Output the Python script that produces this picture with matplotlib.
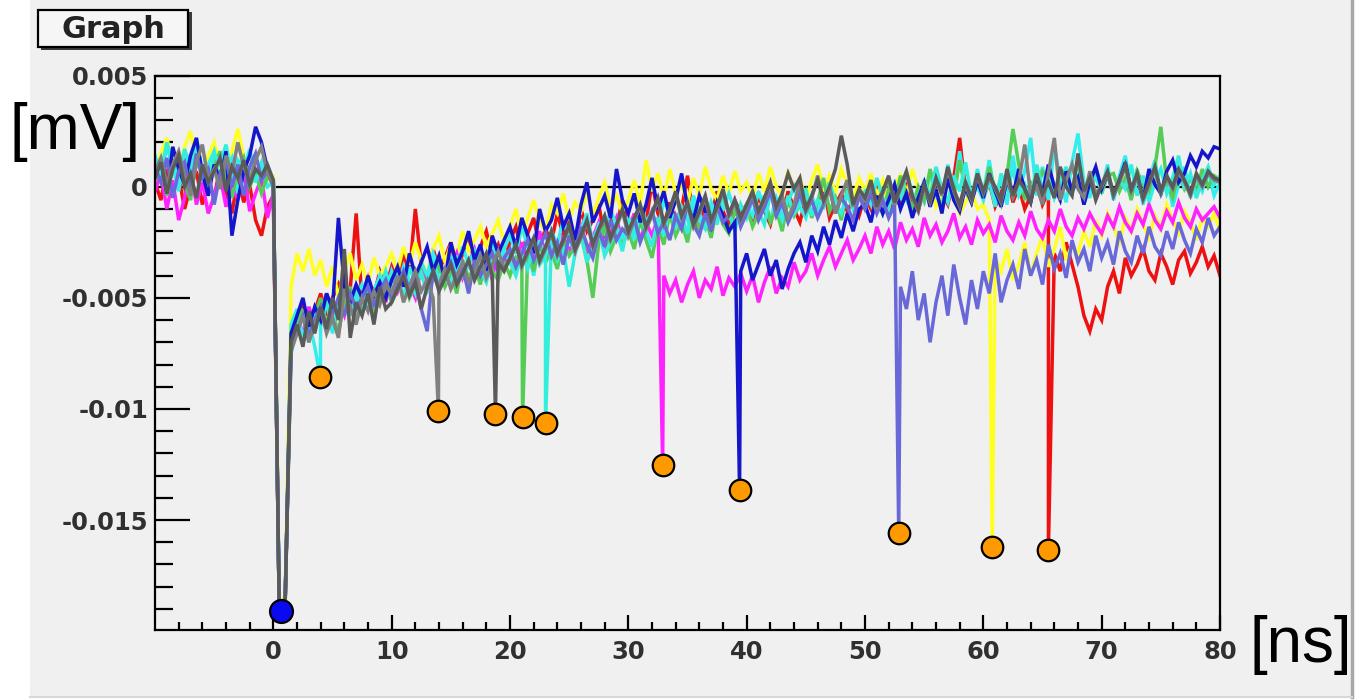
import numpy as np
import matplotlib
matplotlib.use("Agg")
import matplotlib.pyplot as plt
from matplotlib.patches import Rectangle
from matplotlib.lines import Line2D
from matplotlib.ticker import FixedLocator, FixedFormatter

# ---------------- data (values in units of 1e-4, sampled every 0.5 ns from -10 ns) ----------------
T_START = -10.0
T_STEP = 0.5
UNIT = 1e-4

yellow = [8, 15, 22, 10, 4, 18, 25, 12, 6, 14, 20, 9, 3, 16, 26, 13, 5, 11, 8, 2,
          4, -188, -184, -45, -30, -38, -28, -40, -33, -45, -36, -50, -38, -30, -42, -35, -44, -32, -40, -36,
          -30, -38, -27, -35, -25, -33, -40, -28, -22, -34, -26, -31, -20, -29, -24, -18, -27, -21, -15, -25,
          -18, -10, -22, -14, -6, -16, -20, -8, -12, -3, -15, -7, -11, -2, -13, -5, 2, -9, -4, -12,
          -6, 3, -8, 12, -2, 6, -5, 8, -3, 1, -7, 4, -4, 9, -1, -6, 5, -3, 7, -2,
          2, -5, 6, -2, 9, 0, -4, 7, -1, 4, -6, 3, 10, -2, 5, -3, 8, 1, -5, 4,
          -2, 6, -4, 3, -8, 1, 5, -3, 8, -1, -6, 2, -9, -3, 4, -5, -12, -7, -2, -10,
          -8, -15, -32, -38, -28, -42, -35, -25, -40, -30, -22, -36, -28, -18, -33, -26, -30, -20, -27, -15,
          -22, -12, -18, -25, -14, -20, -10, -17, -23, -13, -19, -8, -15, -21, -11, -16, -24, -14, -18, -12,
          -20]

cyan = [12, 5, 18, 9, -2, 14, 7, 20, 3, 10, 16, 1, 8, 13, -3, 6, 17, 4, 11, 0,
        2, -190, -187, -62, -55, -68, -60, -72, -58, -50, -63, -55, -45, -58, -50, -44, -52, -47, -40, -49,
        -38, -45, -36, -42, -48, -34, -40, -30, -37, -43, -31, -38, -27, -35, -41, -29, -33, -24, -36, -28,
        -22, -30, -18, -27, -40, -24, -32, -20, -26, -15, -23, -30, -19, -12, -25, -17, -21, -10, -18, -24,
        -14, -20, -8, -16, -11, -19, -6, -13, -17, -9, -15, -4, -12, -18, -7, -14, -10, -3, -11, -16,
        -8, -13, -2, -10, -15, -5, -12, -7, 0, -9, -14, -4, -11, -6, 2, -8, -13, -3, -10, -5,
        -9, 1, -7, -12, -3, -8, 4, -6, -11, -2, -7, 6, -4, -9, 10, -3, 16, -2, -6, 8,
        -3, 12, -5, 4, -8, 14, -2, 7, 22, -4, 9, -6, 18, 3, -7, 11, 24, 2, -5, 8,
        -1, 10, -6, 5, 14, -3, 8, -8, 2, 12, -4, 6, -9, 1, 9, -5, 3, -2, 7, -4,
        2]

green = [3, 10, -4, 8, 15, 2, -6, 12, 5, -2, 9, 16, 4, -5, 7, 13, 0, 6, -3, 5,
         1, -191, -186, -70, -62, -55, -68, -58, -50, -62, -56, -66, -52, -45, -60, -54, -48, -58, -50, -44,
         -52, -46, -40, -50, -44, -38, -47, -42, -35, -45, -39, -48, -33, -41, -36, -44, -30, -38, -42, -34,
         -40, -32, -36, -30, -38, -26, -34, -29, -37, -24, -31, -27, -20, -33, -50, -25, -18, -29, -22, -26,
         -20, -28, -15, -24, -32, -18, -26, -12, -22, -16, -25, -10, -19, -14, -23, -8, -17, -21, -11, -15,
         -9, -18, -12, -4, -16, -10, -20, -6, -13, -8, -2, -14, -7, 4, -11, -5, -15, -1, -9, -3,
         -10, 2, -6, -12, -1, -8, 5, -4, -9, 0, -6, 8, -3, -10, 3, -5, 12, -2, -7, 6,
         -4, 9, -2, -8, 5, 26, 10, -6, 2, -1, 7, 4, 0, -5, 6, -2, 12, -7, 3, 8,
         -3, 5, 6, -2, 4, -6, 7, 1, -4, 9, 27, 2, -5, 6, -1, 4, -3, 8, 0, 5,
         3]

turquoise = [14, 6, 20, 11, 3, 17, 9, 22, 7, 1, 15, 10, 19, 4, 12, 8, 16, 2, 9, 6,
             3, -189, -185, -75, -64, -58, -70, -55, -62, -52, -66, -50, -42, -57, -48, -55, -43, -51, -46, -38,
             -47, -40, -50, -36, -44, -39, -48, -33, -42, -37, -45, -31, -40, -35, -29, -38, -43, -32, -36, -28,
             -34, -40, -30, -37, -26, -35, -31, -24, -33, -28, -45, -30, -22, -34, -27, -19, -31, -25, -20, -29,
             -16, -24, -12, -20, -27, -14, -22, -9, -18, -13, -21, -7, -15, -19, -10, -17, -5, -12, -20, -8,
             -14, -6, -11, -17, -3, -10, -15, -4, -12, -8, -1, -13, -6, -9, 2, -7, -12, -3, -10, -5,
             -2, -8, 4, -5, -10, 1, -6, 7, -3, -9, 3, -4, 9, -1, -7, 5, -2, 11, -5, 0,
             -6, 3, -9, 6, -2, 8, -4, 1, -7, 10, -1, 5, -5, 2, 9, -3, 6, -8, 0, 4,
             -2, 7, -5, 3, -1, 10, -4, 5, -7, 2, 8, -3, 4, 14, -1, 6, -5, 3, 9, 1,
             5]

magenta = [-2, 6, -10, 3, -15, -5, 8, -8, 2, -12, -4, 5, -9, 1, -6, 7, -11, -3, 4, -14,
           -3, -190, -186, -68, -60, -66, -54, -62, -57, -48, -60, -52, -58, -46, -53, -49, -41, -50, -44, -52,
           -40, -47, -38, -44, -50, -36, -43, -39, -33, -45, -37, -30, -41, -35, -28, -38, -32, -42, -27, -34,
           -30, -36, -25, -33, -28, -20, -31, -26, -35, -22, -29, -24, -18, -30, -23, -16, -27, -21, -14, -25,
           -19, -12, -24, -16, -22, -14, -40, -48, -42, -52, -44, -38, -50, -42, -46, -36, -49, -41, -45, -39,
           -47, -40, -52, -43, -36, -48, -41, -45, -34, -42, -38, -30, -40, -33, -27, -36, -30, -24, -33, -28,
           -22, -30, -18, -26, -20, -28, -16, -24, -19, -27, -14, -22, -17, -25, -20, -12, -23, -18, -26, -15,
           -21, -17, -25, -13, -20, -24, -16, -22, -11, -19, -23, -15, -20, -10, -18, -22, -14, -19, -12, -17,
           -21, -13, -18, -9, -16, -20, -12, -17, -8, -15, -19, -11, -16, -7, -14, -18, -10, -15, -12, -9,
           -14]

blue = [5, 12, -3, 18, 8, 1, 14, 22, 6, -4, 10, 3, 16, -22, -6, 7, 14, 27, 20, 8,
        2, -190, -187, -66, -58, -50, -63, -54, -60, -48, -55, -14, -45, -52, -44, -50, -40, -49, -43, -50,
        -42, -36, -45, -30, -40, -34, -27, -38, -31, -42, -25, -35, -29, -20, -33, -26, -38, -22, -30, -24,
        -18, -27, -14, -22, -30, -10, -20, -15, -5, -18, -12, -24, -8, 2, -16, -10, -4, -14, 8, -6,
        -12, -3, -16, -8, 4, -10, -2, -14, -6, 6, -9, -15, -4, -11, -18, -7, -13, -20, -16, -38,
        -30, -42, -35, -28, -40, -33, -46, -37, -30, -25, -34, -22, -29, -18, -26, -15, -23, -12, -20, -10,
        -8, -16, -4, -12, -6, 1, -10, -3, -14, -5, 2, -9, -1, -12, 4, -6, -11, 0, -7, 3,
        -5, 6, -2, -9, 3, -4, 8, -1, -7, 5, -3, 10, 0, -6, 7, -2, 4, -8, 2, 9,
        -1, 6, -4, 3, 11, -2, 5, -6, 8, 1, -3, 7, 12, 2, 6, 14, 9, 16, 13, 18,
        17]

slate = [9, 2, 13, -5, 7, 11, -2, 15, 4, 8, -8, 6, 12, 0, 10, -4, 9, 15, 3, 7,
         0, -191, -188, -72, -65, -58, -67, -60, -54, -63, -57, -50, -58, -48, -55, -50, -45, -53, -47, -42,
         -50, -44, -38, -47, -41, -55, -65, -37, -46, -40, -34, -42, -36, -48, -33, -40, -35, -30, -38, -32,
         -28, -36, -30, -24, -33, -27, -21, -31, -25, -35, -22, -29, -18, -26, -32, -20, -27, -15, -24, -19,
         -22, -14, -25, -18, -11, -21, -16, -24, -13, -19, -8, -17, -22, -12, -20, -9, -16, -13, -6, -18,
         -12, -5, -15, -9, -2, -13, -7, -16, -10, -3, -11, -6, -14, -8, 0, -12, -5, -9, -15, -4,
         -10, -3, -12, -6, -14, -8, -45, -55, -38, -60, -48, -70, -52, -40, -58, -35, -50, -62, -42, -55,
         -38, -48, -30, -52, -42, -35, -46, -28, -40, -33, -44, -26, -37, -30, -41, -24, -34, -28, -38, -22,
         -32, -25, -35, -20, -29, -34, -22, -30, -18, -27, -31, -20, -28, -16, -24, -30, -19, -25, -14, -22,
         -18]

red = [2, -6, 8, -3, 5, -10, 0, 7, -8, 3, -5, 9, -2, -12, 4, -7, 1, -15, -22, -9,
       -4, -190, -186, -68, -60, -52, -64, -56, -48, -58, -50, -44, -54, -46, -12, -52, -42, -49, -38, -45,
       -36, -43, -30, -39, -10, -35, -41, -28, -37, -32, -25, -38, -30, -22, -34, -27, -20, -31, -26, -35,
       -24, -18, -30, -21, -14, -27, -19, -25, -12, -22, -16, -28, -10, -20, -15, -8, -23, -13, -18, -6,
       -14, -20, -9, -16, 2, -12, -18, -7, -15, -10, 5, -13, -19, -8, -14, -2, -11, -17, -6, -12,
       -8, -15, -4, -11, -17, -6, -13, -2, -10, -16, -5, -12, -7, 0, -14, -8, -3, -11, -6, -13,
       -4, -10, 1, -7, -12, -3, -9, 2, -6, -11, 0, -5, 8, -3, -8, 4, 22, -2, -7, 3,
       -5, 2, -9, -3, 6, -7, 0, -10, -4, 3, -8, -2, -30, -38, -25, -35, -45, -58, -65, -55,
       -60, -45, -38, -48, -32, -40, -35, -28, -38, -42, -30, -36, -44, -33, -29, -39, -34, -27, -36, -31,
       -40]

grey_light = [7, 13, 1, 10, 16, 5, -4, 11, 19, 3, 8, -1, 14, 6, 20, 9, 2, 12, 18, 6,
              2, -190, -186, -74, -66, -58, -70, -62, -55, -66, -59, -68, -46, -54, -62, -50, -56, -47, -53, -44,
              -48, -40, -52, -45, -38, -47, -42, -50, -44, -37, -46, -40, -34, -43, -38, -31, -41, -35, -29, -37,
              -33, -26, -36, -30, -24, -34, -28, -21, -31, -25, -18, -29, -23, -16, -27, -20, -14, -24, -18, -11,
              -22, -15, -9, -19, -13, -6, -17, -11, -3, -14, -8, -18, -12, -5, -16, -10, -2, -13, -7, -15,
              -9, -3, -12, -6, 1, -10, -4, -14, -8, 2, -11, -5, 5, -7, -1, -12, -4, 3, -9, -2,
              -6, 2, -10, -3, 4, -8, -1, 6, -5, -11, 0, -7, 3, -4, 8, -2, -9, 1, -6, 5,
              -3, 4, -1, -7, 4, -5, 2, 19, -4, 0, -8, 6, 22, -6, 3, 10, -1, -5, 7, -3,
              0, 6, -4, 2, 9, -2, 5, -6, 1, 8, -3, 4, -1, 7, 2, -4, 5, 0, 6, 3,
              2]

grey_dark = [4, 11, -3, 8, 14, 0, 6, -5, 10, 2, 7, 13, -2, 9, 4, 12, 1, 8, 5, 10,
             3, -190, -187, -70, -62, -72, -56, -66, -54, -64, -50, -60, -28, -68, -52, -58, -48, -62, -45, -55,
             -52, -46, -40, -49, -43, -55, -45, -38, -47, -41, -35, -44, -39, -33, -42, -36, -30, -40, -34, -38,
             -32, -26, -35, -29, -23, -33, -27, -20, -30, -24, -17, -28, -22, -15, -26, -19, -13, -23, -17, -10,
             -20, -14, -8, -18, -12, -5, -16, -10, -2, -13, -7, -17, -11, -4, -15, -9, -1, -12, -6, -14,
             -8, -2, -11, -5, 2, -9, -3, 6, -1, 4, -10, -4, 3, -6, 0, 8, 23, 10, -8, -1,
             -5, 3, -9, -2, 5, -7, 0, 7, -4, -10, 1, -6, 4, -3, 9, -1, -8, 2, -5, 6,
             -2, 5, 0, -6, 8, -4, 3, -1, -7, 6, -3, 2, -5, 9, 0, -4, 15, -2, 4, -6,
             1, 7, -3, 3, 10, -1, 6, -5, 2, 9, -2, 5, 0, 8, 3, -3, 6, 1, 7, 4,
             3]

# afterpulse spikes (time in ns, minimum in units of 1e-4) -> orange markers, one per trace (same order)
spike_t = [65.5, 60.75, 32.9, 3.97, 21.06, 23.0, 39.4, 52.85, 13.95, 18.77]
spike_v = [-163.5, -162.2, -125.2, -85.6, -103.6, -106.3, -136.5, -155.9, -100.9, -102.3]
# main pulse minimum -> blue marker
pulse_t = [0.68]
pulse_v = [-191]

trace_values = [red, yellow, magenta, cyan, green, turquoise, blue, slate, grey_light, grey_dark]
trace_colors = ["#ee1111", "#ffff22", "#ff22ff", "#33eeee", "#55cc55", "#33eedd",
                "#1515cc", "#6868d8", "#808080", "#5a5a5a"]

x_major = [0, 10, 20, 30, 40, 50, 60, 70, 80]
x_minor = [v for v in range(-8, 80, 2) if v % 10 != 0]
y_major = [0.005, 0.0, -0.005, -0.01, -0.015]
y_labels = ["0.005", "0", "-0.005", "-0.01", "-0.015"]
y_minor = [i * 0.001 for i in range(-19, 5) if i % 5 != 0]

# ---------------- figure ----------------
W, H = 1359, 700
fig = plt.figure(figsize=(W / 100, H / 100), dpi=100, facecolor="white")

# canvas background (ROOT window)
fig.patches.append(Rectangle((30 / W, 3 / H), (1351 - 30) / W, 1 - 3 / H,
                             transform=fig.transFigure, facecolor="#f0f0f0",
                             edgecolor="none", zorder=-10))
fig.lines.append(Line2D([1352 / W, 1352 / W], [3 / H, 1], transform=fig.transFigure,
                        color="#a8a8a8", lw=2.5, zorder=-9))
fig.lines.append(Line2D([30 / W, 1352 / W], [3 / H, 3 / H], transform=fig.transFigure,
                        color="#d8d8d8", lw=1.5, zorder=-9))

ax = fig.add_axes([155 / W, 1 - 630 / H, (1220 - 155) / W, (630 - 75.7) / H])
ax.set_zorder(1)
ax.set_facecolor("#f0f0f0")
ax.set_xlim(-10, 80)
ax.set_ylim(-0.01995, 0.005)

# zero reference line
ax.plot([0.35, 80], [0, 0], color="black", lw=1.6, zorder=1)

for i, (vals, col) in enumerate(zip(trace_values, trace_colors)):
    assert len(vals) == 181, (i, len(vals))
    t = T_START + T_STEP * np.arange(len(vals))
    v = np.asarray(vals, dtype=float)
    # insert the afterpulse spike belonging to this trace
    k = np.searchsorted(t, spike_t[i], side="right")
    t = np.insert(t, k, spike_t[i])
    v = np.insert(v, k, spike_v[i])
    ax.plot(t, v * UNIT, color=col, lw=2.5, zorder=2, solid_joinstyle="miter")

ax.plot(spike_t, np.asarray(spike_v) * UNIT, "o", ms=15.5, mfc="#ff9900",
        mec="black", mew=1.6, zorder=5, clip_on=False)
ax.plot(pulse_t, np.asarray(pulse_v) * UNIT, "o", ms=16.5, mfc="#0a0af0",
        mec="black", mew=1.6, zorder=5, clip_on=False)

# axes styling (ROOT look)
for sp in ax.spines.values():
    sp.set_linewidth(1.6)
    sp.set_color("black")
ax.xaxis.set_major_locator(FixedLocator(x_major))
ax.xaxis.set_minor_locator(FixedLocator(x_minor))
ax.yaxis.set_major_locator(FixedLocator(y_major))
ax.yaxis.set_major_formatter(FixedFormatter(y_labels))
ax.yaxis.set_minor_locator(FixedLocator(y_minor))
ax.tick_params(axis="both", which="both", direction="in", top=False, right=False,
               width=1.6, color="black", labelcolor="#303030")
ax.tick_params(axis="y", which="major", length=25, pad=5)
ax.tick_params(axis="y", which="minor", length=13)
ax.tick_params(axis="x", which="major", length=11, pad=7)
ax.tick_params(axis="x", which="minor", length=6)
for lab in ax.get_xticklabels() + ax.get_yticklabels():
    lab.set_fontfamily("DejaVu Sans")
    lab.set_fontweight("bold")
    lab.set_fontsize(17.5)

# title box "Graph"
fig.patches.append(Rectangle((41 / W, 1 - 50 / H), 151 / W, 38 / H, transform=fig.transFigure,
                             facecolor="#3a3a3a", edgecolor="none", zorder=3))
fig.patches.append(Rectangle((38 / W, 1 - 47 / H), 150 / W, 37 / H, transform=fig.transFigure,
                             facecolor="#f6f6f6", edgecolor="black", lw=1.6, zorder=4))
fig.text(113 / W, 1 - 29 / H, "Graph", ha="center", va="center", fontsize=22,
         fontweight="bold", family="DejaVu Sans", color="#222222", zorder=5)

# axis unit labels
fig.text(10 / W, 1 - 132 / H, "[mV]", ha="left", va="center", fontsize=46,
         family="Liberation Sans", color="black", zorder=6)
fig.text(1249 / W, 1 - 645 / H, "[ns]", ha="left", va="center", fontsize=46,
         family="Liberation Sans", color="black", zorder=6)

fig.savefig("out.png", dpi=100, facecolor=fig.get_facecolor())
